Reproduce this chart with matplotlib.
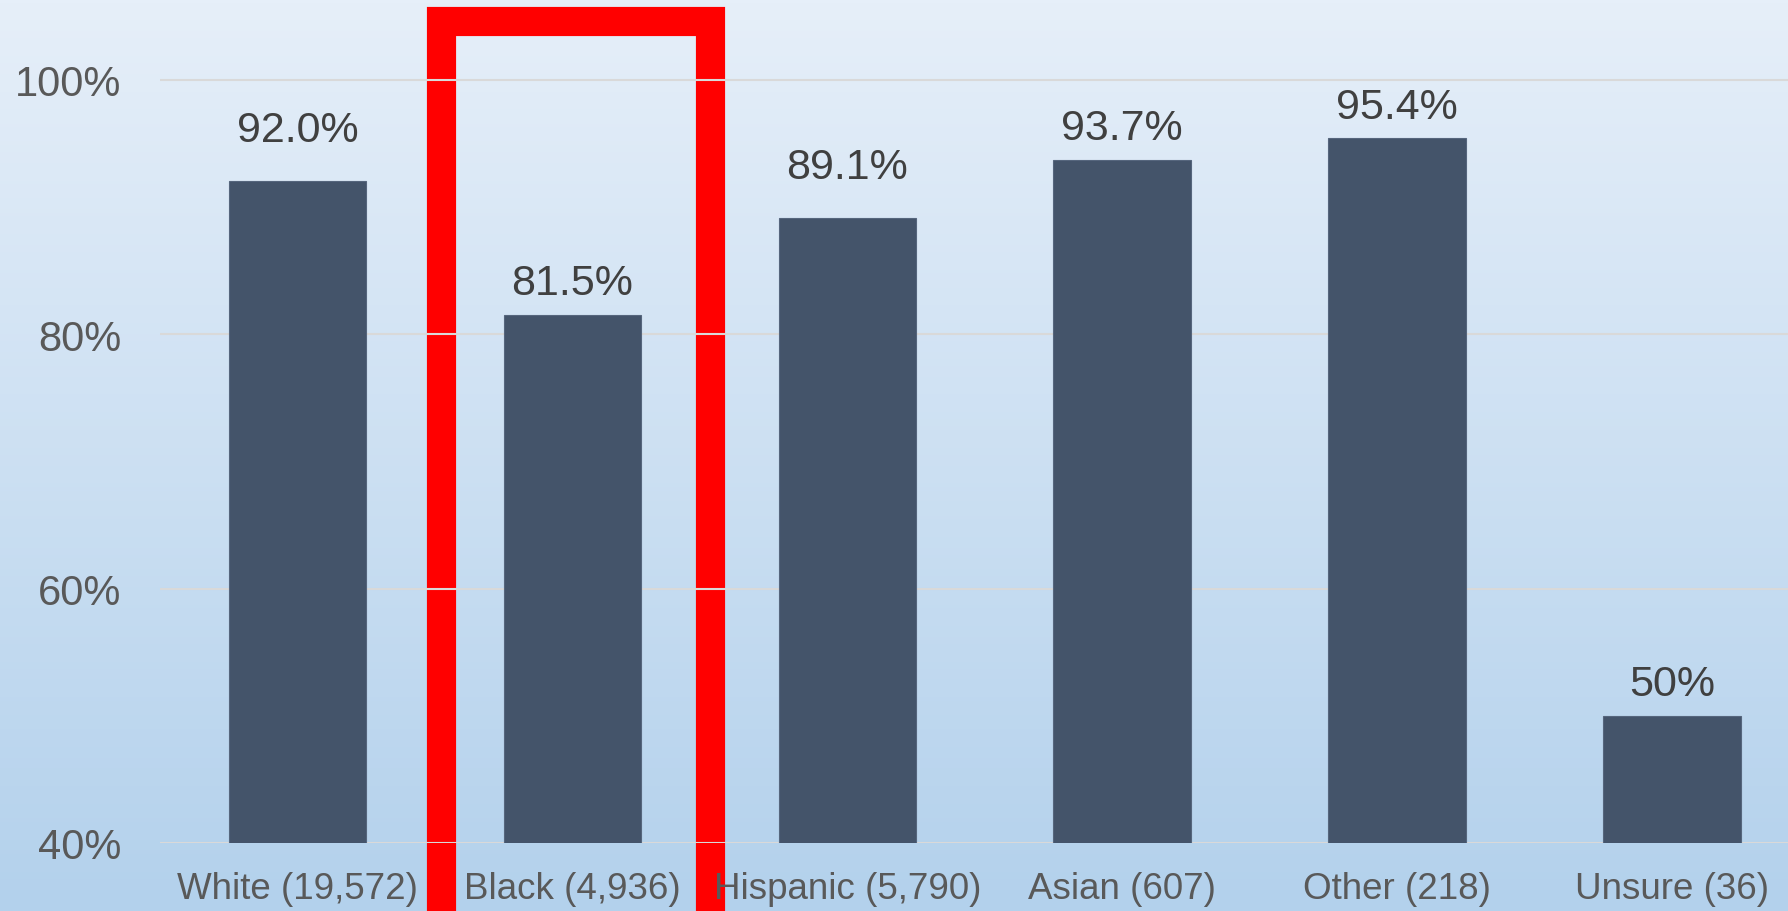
import numpy as np
import matplotlib
matplotlib.use("Agg")
import matplotlib.pyplot as plt
from matplotlib.colors import LinearSegmentedColormap

plt.rcParams['font.family'] = ['Liberation Sans', 'DejaVu Sans']

categories = ['White (19,572)', 'Black (4,936)', 'Hispanic (5,790)',
              'Asian (607)', 'Other (218)', 'Unsure (36)']
values = [92.0, 81.5, 89.1, 93.7, 95.4, 50]
value_labels = ['92.0%', '81.5%', '89.1%', '93.7%', '95.4%', '50%']
y_ticks = [40, 60, 80, 100]

# label gap above each bar, in points (the source chart is uneven)
label_gaps = [28.8, 14.8, 28.8, 14.8, 14.8, 14.8]

fig = plt.figure(figsize=(17.88, 9.12), dpi=100)

# gradient background
bg = fig.add_axes([0, 0, 1, 1], zorder=-10)
grad = np.linspace(0, 1, 256).reshape(-1, 1)
cmap = LinearSegmentedColormap.from_list('bg', ['#E6EFF9', '#B3D1EC'])
bg.imshow(grad, aspect='auto', cmap=cmap, extent=[0, 1, 0, 1])
bg.axis('off')

ax = fig.add_axes([160 / 1788, 68 / 912, 1 - 160 / 1788, 1 - 68 / 912])
ax.patch.set_alpha(0)

x = np.arange(len(categories))
ax.bar(x, values, width=0.5, color='#44546A', edgecolor='#56667D',
       linewidth=0.8, zorder=3)

for yt in y_ticks:
    ax.axhline(yt, color='#D9D9D9', linewidth=1.5, zorder=2)

for xi, v, lab, gap in zip(x, values, value_labels, label_gaps):
    ax.annotate(lab, (xi, v), xytext=(0, gap), textcoords='offset points',
                ha='center', va='baseline', fontsize=31, color='#404040')

# red highlight box around "Black"
ax.plot([0.523, 0.523, 1.5, 1.5], [20, 104.64, 104.64, 20], color='red',
        linewidth=21, solid_joinstyle='miter', solid_capstyle='butt',
        clip_on=False, zorder=1)

ax.set_xlim(-0.5, 5.422)
ax.set_ylim(40, 106.34)
ax.set_yticks(y_ticks)
ax.set_yticklabels([f'{t}%' for t in y_ticks])
ax.set_xticks(x)
ax.set_xticklabels(categories)
ax.tick_params(axis='y', length=0, pad=28, labelsize=30, labelcolor='#595959')
ax.tick_params(axis='x', length=0, pad=20, labelsize=26.5, labelcolor='#595959')
for s in ax.spines.values():
    s.set_visible(False)

fig.savefig('out.png', dpi=100)
